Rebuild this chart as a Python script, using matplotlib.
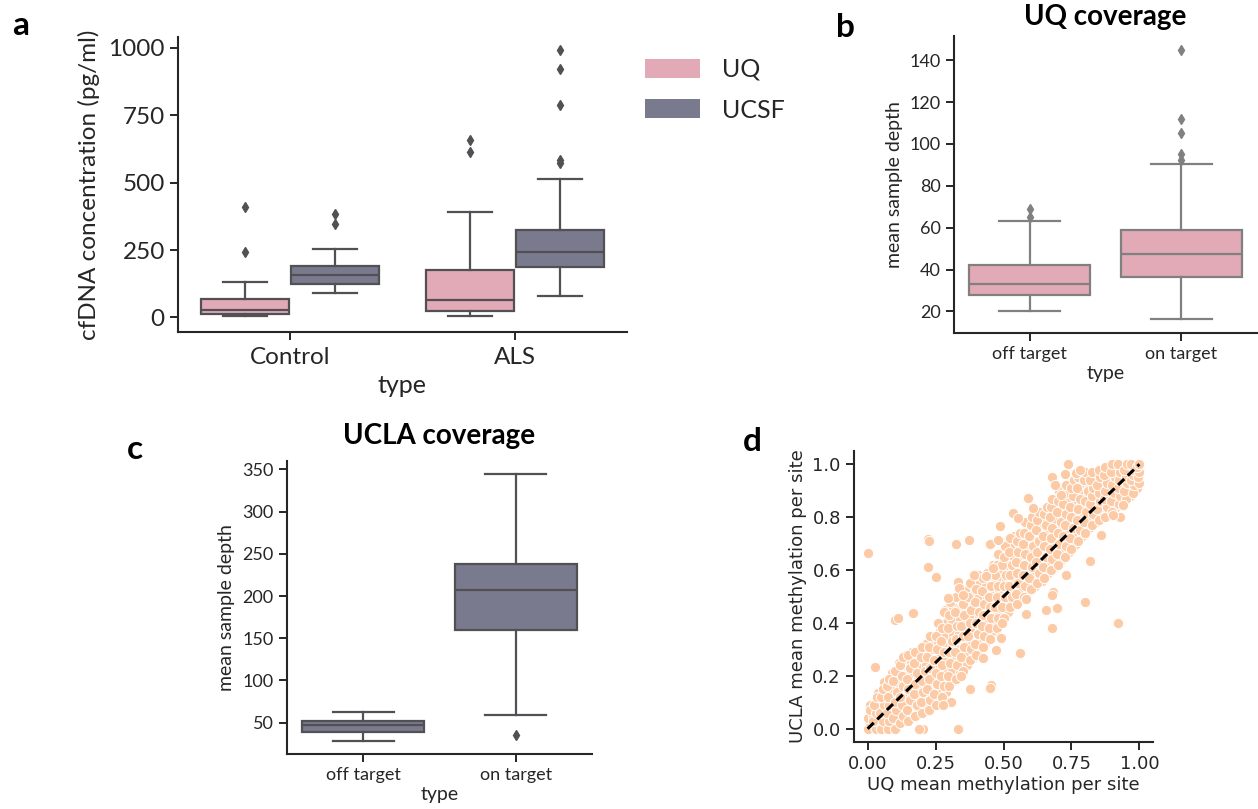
import numpy as np
import matplotlib
matplotlib.use('Agg')
import matplotlib.pyplot as plt
from matplotlib.patches import Patch
from matplotlib.ticker import FormatStrFormatter

# ---------------- data ----------------
# panel a: cfDNA concentration (pg/ml), box summaries per type
cfdna_types = ['Control', 'ALS']
cfdna_sites = ['UQ', 'UCSF']
uq_cfdna_whislo = [5, 4]
uq_cfdna_q1 = [13, 25]
uq_cfdna_med = [28, 65]
uq_cfdna_q3 = [68, 177]
uq_cfdna_whishi = [131, 391]
uq_cfdna_fliers = [[243, 408], [612, 658]]
ucsf_cfdna_whislo = [89, 79]
ucsf_cfdna_q1 = [124, 186]
ucsf_cfdna_med = [157, 242]
ucsf_cfdna_q3 = [192, 324]
ucsf_cfdna_whishi = [253, 514]
ucsf_cfdna_fliers = [[347, 382], [573, 583, 787, 921, 991]]

# panel b: UQ coverage (mean sample depth)
cov_types = ['off target', 'on target']
uq_cov_whislo = [20.2, 16.2]
uq_cov_q1 = [27.8, 36.5]
uq_cov_med = [33.2, 47.3]
uq_cov_q3 = [42.4, 58.8]
uq_cov_whishi = [63.4, 90.6]
uq_cov_fliers = [[65.2, 69.0], [92.2, 95.2, 105.2, 111.9, 144.8]]

# panel c: UCLA coverage (mean sample depth)
ucla_cov_whislo = [28.3, 58.7]
ucla_cov_q1 = [38.5, 159.4]
ucla_cov_med = [47.2, 207.0]
ucla_cov_q3 = [52.0, 237.5]
ucla_cov_whishi = [63.0, 344.5]
ucla_cov_fliers = [[], [35.8]]

# panel d: mean methylation per site, UQ (x) vs UCLA (y)
uq_site_meth = [
    0.00, 0.01, 0.00, 0.02, 0.01,
    0.03, 0.02, 0.03, 0.025, 0.035,
    0.05, 0.055, 0.045, 0.06, 0.05, 0.055,
    0.075, 0.08, 0.07, 0.08, 0.075, 0.07, 0.08,
    0.10, 0.095, 0.105, 0.10, 0.11, 0.095, 0.10,
    0.12, 0.13, 0.125, 0.12, 0.13, 0.125, 0.12, 0.13,
    0.15, 0.145, 0.155, 0.15, 0.145, 0.155, 0.15,
    0.175, 0.18, 0.17, 0.175, 0.18, 0.17, 0.175,
    0.20, 0.195, 0.205, 0.20, 0.21, 0.195, 0.20,
    0.225, 0.23, 0.22, 0.225, 0.23, 0.22, 0.225, 0.23,
    0.25, 0.245, 0.255, 0.25, 0.245, 0.255, 0.25, 0.26,
    0.275, 0.28, 0.27, 0.275, 0.28, 0.27, 0.275, 0.28,
    0.30, 0.295, 0.305, 0.30, 0.31, 0.295, 0.30, 0.305,
    0.325, 0.33, 0.32, 0.325, 0.33, 0.32, 0.325,
    0.35, 0.345, 0.355, 0.35, 0.345, 0.355, 0.35, 0.36,
    0.375, 0.38, 0.37, 0.375, 0.38, 0.37, 0.375,
    0.40, 0.395, 0.405, 0.40, 0.41, 0.395, 0.40, 0.405,
    0.425, 0.43, 0.42, 0.425, 0.43, 0.42, 0.425,
    0.45, 0.445, 0.455, 0.45, 0.445, 0.455, 0.45, 0.46,
    0.475, 0.48, 0.47, 0.475, 0.48, 0.47, 0.475, 0.48,
    0.50, 0.495, 0.505, 0.50, 0.51, 0.495, 0.50, 0.505,
    0.525, 0.53, 0.52, 0.525, 0.53, 0.52, 0.525,
    0.55, 0.545, 0.555, 0.55, 0.545, 0.555, 0.55, 0.56,
    0.575, 0.58, 0.57, 0.575, 0.58, 0.57, 0.575, 0.58,
    0.60, 0.595, 0.605, 0.60, 0.61, 0.595, 0.60, 0.605,
    0.625, 0.63, 0.62, 0.625, 0.63, 0.62, 0.625, 0.63,
    0.65, 0.645, 0.655, 0.65, 0.645, 0.655, 0.65, 0.66,
    0.675, 0.68, 0.67, 0.675, 0.68, 0.67, 0.675, 0.68,
    0.70, 0.695, 0.705, 0.70, 0.71, 0.695, 0.70, 0.705,
    0.725, 0.73, 0.72, 0.725, 0.73, 0.72, 0.725, 0.73,
    0.75, 0.745, 0.755, 0.75, 0.745, 0.755, 0.75, 0.76,
    0.775, 0.78, 0.77, 0.775, 0.78, 0.77, 0.775,
    0.80, 0.795, 0.805, 0.80, 0.81, 0.795, 0.80,
    0.825, 0.83, 0.82, 0.825, 0.83, 0.82, 0.825,
    0.85, 0.845, 0.855, 0.85, 0.845, 0.855, 0.85,
    0.875, 0.88, 0.87, 0.875, 0.88, 0.87, 0.875,
    0.90, 0.895, 0.905, 0.90, 0.91, 0.895, 0.90,
    0.925, 0.93, 0.92, 0.925, 0.93, 0.92,
    0.95, 0.945, 0.955, 0.95, 0.945, 0.955,
    0.975, 0.98, 0.97, 0.975, 0.98, 0.97,
    1.00, 0.995, 1.00, 0.99, 1.00,
    # scattered sites away from the band
    0.00, 0.222, 0.227, 0.324, 0.372, 0.224, 0.251, 0.488, 0.45, 0.48,
    0.461, 0.434, 0.39, 0.332, 0.336, 0.351, 0.296,
    0.737, 0.725, 0.766, 0.78, 0.68, 0.688, 0.71, 0.59, 0.608, 0.535,
    0.553, 0.94, 0.927, 0.903, 0.86, 0.817, 0.731, 0.682, 0.68,
    0.028, 0.10, 0.112, 0.167, 0.332, 0.204, 0.19, 0.455, 0.45, 0.375,
    0.345, 0.308, 0.277, 0.486, 0.474, 0.425,
    0.80, 0.921, 0.678, 0.658, 0.695, 0.584, 0.559, 0.492, 0.493, 0.584,
]
ucla_site_meth = [
    0.00, 0.02, 0.04, 0.05, 0.07,
    0.00, 0.03, 0.06, 0.09, 0.12,
    0.00, 0.03, 0.06, 0.09, 0.12, 0.15,
    0.00, 0.03, 0.06, 0.09, 0.12, 0.16, 0.19,
    0.00, 0.04, 0.07, 0.10, 0.14, 0.18, 0.22,
    0.02, 0.05, 0.09, 0.12, 0.16, 0.20, 0.24, 0.27,
    0.03, 0.07, 0.11, 0.15, 0.19, 0.23, 0.28,
    0.05, 0.09, 0.13, 0.17, 0.21, 0.25, 0.29,
    0.06, 0.10, 0.14, 0.18, 0.22, 0.27, 0.31,
    0.07, 0.11, 0.15, 0.19, 0.23, 0.27, 0.31, 0.35,
    0.09, 0.13, 0.17, 0.21, 0.26, 0.30, 0.35, 0.40,
    0.12, 0.16, 0.20, 0.24, 0.29, 0.33, 0.38, 0.44,
    0.16, 0.20, 0.25, 0.29, 0.33, 0.38, 0.43, 0.48,
    0.19, 0.24, 0.29, 0.34, 0.39, 0.44, 0.50,
    0.22, 0.27, 0.31, 0.35, 0.39, 0.43, 0.47, 0.52,
    0.26, 0.30, 0.35, 0.40, 0.45, 0.50, 0.55,
    0.28, 0.32, 0.36, 0.40, 0.44, 0.48, 0.53, 0.58,
    0.31, 0.35, 0.39, 0.43, 0.47, 0.52, 0.57,
    0.34, 0.38, 0.42, 0.46, 0.50, 0.54, 0.58, 0.62,
    0.38, 0.42, 0.46, 0.50, 0.54, 0.58, 0.62, 0.66,
    0.42, 0.46, 0.50, 0.54, 0.58, 0.62, 0.65, 0.69,
    0.46, 0.50, 0.54, 0.58, 0.62, 0.67, 0.72,
    0.47, 0.51, 0.55, 0.59, 0.63, 0.67, 0.71, 0.74,
    0.50, 0.54, 0.58, 0.62, 0.66, 0.70, 0.74, 0.78,
    0.53, 0.57, 0.61, 0.65, 0.69, 0.73, 0.77, 0.80,
    0.55, 0.59, 0.63, 0.67, 0.71, 0.75, 0.79, 0.82,
    0.57, 0.61, 0.65, 0.69, 0.73, 0.77, 0.81, 0.84,
    0.60, 0.64, 0.68, 0.72, 0.76, 0.80, 0.84, 0.87,
    0.62, 0.66, 0.70, 0.74, 0.78, 0.82, 0.86, 0.90,
    0.65, 0.69, 0.73, 0.77, 0.81, 0.85, 0.89, 0.92,
    0.68, 0.72, 0.76, 0.80, 0.84, 0.88, 0.91, 0.94,
    0.71, 0.75, 0.79, 0.83, 0.87, 0.91, 0.95,
    0.74, 0.78, 0.82, 0.86, 0.90, 0.94, 0.97,
    0.77, 0.81, 0.85, 0.88, 0.91, 0.94, 0.97,
    0.79, 0.83, 0.86, 0.89, 0.92, 0.95, 0.98,
    0.80, 0.84, 0.87, 0.90, 0.93, 0.96, 0.99,
    0.82, 0.86, 0.89, 0.92, 0.95, 0.97, 1.00,
    0.85, 0.88, 0.91, 0.94, 0.97, 1.00,
    0.87, 0.90, 0.93, 0.95, 0.98, 1.00,
    0.89, 0.92, 0.94, 0.96, 0.98, 1.00,
    0.93, 0.95, 0.97, 0.99, 1.00,
    # scattered sites away from the band
    0.665, 0.716, 0.708, 0.700, 0.712, 0.611, 0.574, 0.766, 0.70, 0.713,
    0.606, 0.577, 0.58, 0.555, 0.533, 0.505, 0.493,
    1.00, 0.962, 0.965, 0.977, 0.952, 0.92, 0.885, 0.873, 0.836, 0.816,
    0.795, 0.845, 0.80, 0.807, 0.732, 0.634, 0.58, 0.517, 0.505,
    0.234, 0.41, 0.42, 0.438, 0.0, 0.0, 0.0, 0.165, 0.155, 0.149,
    0.20, 0.102, 0.09, 0.348, 0.297, 0.266,
    0.478, 0.398, 0.382, 0.448, 0.457, 0.432, 0.287, 0.345, 0.40, 0.49,
]
# second layer of sites packed in between the first (dense core of the band)
uq_site_meth_core = [
    0.015, 0.01, 0.015, 0.01,
    0.04, 0.035, 0.04, 0.035, 0.04,
    0.065, 0.06, 0.065, 0.06, 0.065, 0.06,
    0.09, 0.085, 0.09, 0.085, 0.09, 0.085, 0.09,
    0.115, 0.11, 0.115, 0.11, 0.115, 0.11, 0.115,
    0.14, 0.135, 0.14, 0.135, 0.14, 0.135, 0.14,
    0.165, 0.16, 0.165, 0.16, 0.165, 0.16, 0.165,
    0.19, 0.185, 0.19, 0.185, 0.19, 0.185,
    0.215, 0.21, 0.215, 0.21, 0.215, 0.21, 0.215,
    0.24, 0.235, 0.24, 0.235, 0.24, 0.235, 0.24,
    0.265, 0.26, 0.265, 0.26, 0.265, 0.26, 0.265,
    0.29, 0.285, 0.29, 0.285, 0.29, 0.285, 0.29, 0.285,
    0.315, 0.31, 0.315, 0.31, 0.315, 0.31, 0.315,
    0.34, 0.335, 0.34, 0.335, 0.34, 0.335, 0.34,
    0.365, 0.36, 0.365, 0.36, 0.365, 0.36, 0.365,
    0.39, 0.385, 0.39, 0.385, 0.39, 0.385, 0.39,
    0.415, 0.41, 0.415, 0.41, 0.415, 0.41, 0.415,
    0.44, 0.435, 0.44, 0.435, 0.44, 0.435, 0.44,
    0.465, 0.46, 0.465, 0.46, 0.465, 0.46, 0.465,
    0.49, 0.485, 0.49, 0.485, 0.49, 0.485, 0.49,
    0.515, 0.51, 0.515, 0.51, 0.515, 0.51, 0.515,
    0.54, 0.535, 0.54, 0.535, 0.54, 0.535, 0.54,
    0.565, 0.56, 0.565, 0.56, 0.565, 0.56, 0.565,
    0.59, 0.585, 0.59, 0.585, 0.59, 0.585, 0.59,
    0.615, 0.61, 0.615, 0.61, 0.615, 0.61, 0.615,
    0.64, 0.635, 0.64, 0.635, 0.64, 0.635, 0.64,
    0.665, 0.66, 0.665, 0.66, 0.665, 0.66, 0.665,
    0.69, 0.685, 0.69, 0.685, 0.69, 0.685, 0.69,
    0.715, 0.71, 0.715, 0.71, 0.715, 0.71, 0.715,
    0.74, 0.735, 0.74, 0.735, 0.74, 0.735, 0.74,
    0.765, 0.76, 0.765, 0.76, 0.765, 0.76, 0.765,
    0.79, 0.785, 0.79, 0.785, 0.79, 0.785, 0.79,
    0.815, 0.81, 0.815, 0.81, 0.815, 0.81,
    0.84, 0.835, 0.84, 0.835, 0.84, 0.835,
    0.865, 0.86, 0.865, 0.86, 0.865, 0.86,
    0.89, 0.885, 0.89, 0.885, 0.89, 0.885,
    0.915, 0.91, 0.915, 0.91, 0.915, 0.91,
    0.94, 0.935, 0.94, 0.935, 0.94,
    0.965, 0.96, 0.965, 0.96, 0.965,
    0.99, 0.985, 0.99, 0.985,
]
ucla_site_meth_core = [
    0.01, 0.03, 0.06, 0.09,
    0.015, 0.045, 0.075, 0.105, 0.135,
    0.015, 0.045, 0.075, 0.105, 0.14, 0.175,
    0.015, 0.045, 0.08, 0.115, 0.15, 0.185, 0.21,
    0.02, 0.055, 0.09, 0.13, 0.17, 0.21, 0.25,
    0.04, 0.08, 0.12, 0.16, 0.20, 0.24, 0.28,
    0.05, 0.09, 0.13, 0.17, 0.21, 0.25, 0.29,
    0.07, 0.11, 0.15, 0.19, 0.23, 0.27,
    0.08, 0.12, 0.16, 0.20, 0.24, 0.28, 0.32,
    0.10, 0.14, 0.18, 0.22, 0.26, 0.30, 0.34,
    0.11, 0.15, 0.19, 0.23, 0.28, 0.32, 0.37,
    0.14, 0.18, 0.22, 0.26, 0.31, 0.35, 0.40, 0.45,
    0.18, 0.22, 0.27, 0.31, 0.36, 0.41, 0.46,
    0.21, 0.25, 0.30, 0.36, 0.41, 0.45, 0.49,
    0.24, 0.29, 0.33, 0.37, 0.42, 0.46, 0.51,
    0.27, 0.32, 0.37, 0.42, 0.47, 0.52, 0.56,
    0.30, 0.34, 0.38, 0.42, 0.46, 0.50, 0.55,
    0.33, 0.37, 0.41, 0.45, 0.49, 0.54, 0.59,
    0.36, 0.40, 0.44, 0.48, 0.52, 0.56, 0.60,
    0.40, 0.44, 0.48, 0.52, 0.56, 0.60, 0.64,
    0.44, 0.48, 0.52, 0.56, 0.60, 0.64, 0.68,
    0.47, 0.52, 0.56, 0.60, 0.64, 0.69, 0.73,
    0.49, 0.53, 0.57, 0.61, 0.65, 0.69, 0.73,
    0.52, 0.56, 0.60, 0.64, 0.68, 0.72, 0.76,
    0.54, 0.59, 0.63, 0.67, 0.71, 0.75, 0.79,
    0.56, 0.61, 0.65, 0.69, 0.73, 0.77, 0.81,
    0.59, 0.63, 0.67, 0.71, 0.75, 0.79, 0.83,
    0.61, 0.66, 0.70, 0.74, 0.78, 0.82, 0.86,
    0.64, 0.68, 0.72, 0.76, 0.80, 0.84, 0.88,
    0.67, 0.71, 0.75, 0.79, 0.83, 0.87, 0.90,
    0.70, 0.74, 0.78, 0.82, 0.86, 0.89, 0.93,
    0.73, 0.77, 0.81, 0.85, 0.89, 0.93, 0.96,
    0.76, 0.80, 0.84, 0.88, 0.92, 0.96,
    0.78, 0.82, 0.86, 0.90, 0.94, 0.97,
    0.80, 0.84, 0.88, 0.91, 0.94, 0.97,
    0.82, 0.86, 0.89, 0.92, 0.95, 0.98,
    0.84, 0.87, 0.90, 0.93, 0.96, 0.99,
    0.86, 0.89, 0.92, 0.96, 0.99,
    0.88, 0.91, 0.94, 0.97, 0.99,
    0.91, 0.94, 0.965, 0.985,
]

# ---------------- styling ----------------
plt.rcParams['font.family'] = ['Lato', 'DejaVu Sans']
txt = '#262626'
pink = '#E2AAB7'
slate = '#7A7A8E'
peach = '#FCCBA6'
dark_edge = '#505055'
light_edge = '#808080'

fig = plt.figure(figsize=(12.58, 8.09), dpi=100)
W, H = 1258.0, 809.0


def add_axes_px(left, top, right, bottom):
    return fig.add_axes([left / W, 1 - bottom / H, (right - left) / W, (bottom - top) / H])


def stats_list(lo, q1, med, q3, hi, fl):
    return [dict(whislo=a, q1=b, med=c, q3=d, whishi=e, fliers=f)
            for a, b, c, d, e, f in zip(lo, q1, med, q3, hi, fl)]


def draw_boxes(ax, stats, pos, width, face, edge):
    ax.bxp(stats, positions=pos, widths=width, patch_artist=True, manage_ticks=False,
           boxprops=dict(facecolor=face, edgecolor=edge, linewidth=1.6),
           medianprops=dict(color=edge, linewidth=1.6),
           whiskerprops=dict(color=edge, linewidth=1.6),
           capprops=dict(color=edge, linewidth=1.6),
           flierprops=dict(marker='d', markerfacecolor=edge, markeredgecolor=edge, markersize=5.5))


def style_axes(ax, size):
    for s in ['top', 'right']:
        ax.spines[s].set_visible(False)
    for s in ['left', 'bottom']:
        ax.spines[s].set_linewidth(1.5)
        ax.spines[s].set_color(txt)
    ax.tick_params(length=6, width=1.4, colors=txt, labelsize=size)


# ---------------- panel a ----------------
ax_a = add_axes_px(178, 37, 627, 332)
xa = np.arange(len(cfdna_types))
draw_boxes(ax_a, stats_list(uq_cfdna_whislo, uq_cfdna_q1, uq_cfdna_med, uq_cfdna_q3,
                            uq_cfdna_whishi, uq_cfdna_fliers), xa - 0.2, 0.392, pink, dark_edge)
draw_boxes(ax_a, stats_list(ucsf_cfdna_whislo, ucsf_cfdna_q1, ucsf_cfdna_med, ucsf_cfdna_q3,
                            ucsf_cfdna_whishi, ucsf_cfdna_fliers), xa + 0.2, 0.392, slate, dark_edge)
ax_a.set_xlim(-0.5, 1.5)
ax_a.set_ylim(-54, 1040)
ax_a.set_xticks(xa)
ax_a.set_xticklabels(cfdna_types)
ax_a.set_yticks([0, 250, 500, 750, 1000])
style_axes(ax_a, 17.5)
ax_a.tick_params(axis='x', pad=5)
ax_a.set_xlabel('type', fontsize=18, color=txt, labelpad=4)
ax_a.set_ylabel('cfDNA concentration (pg/ml)', fontsize=17.5, color=txt, labelpad=6)
ax_a.legend(handles=[Patch(facecolor=pink, edgecolor='none', label=cfdna_sites[0]),
                     Patch(facecolor=slate, edgecolor='none', label=cfdna_sites[1])],
            loc='upper left', bbox_to_anchor=(645 / W, 1 - 58 / H), bbox_transform=fig.transFigure,
            frameon=False, fontsize=18, handlelength=2.2, handleheight=0.8,
            labelspacing=0.7, handletextpad=0.9, borderpad=0, borderaxespad=0,
            labelcolor=txt)

# ---------------- panel b ----------------
ax_b = add_axes_px(954, 36, 1257, 333)
xb = np.arange(len(cov_types))
draw_boxes(ax_b, stats_list(uq_cov_whislo, uq_cov_q1, uq_cov_med, uq_cov_q3,
                            uq_cov_whishi, uq_cov_fliers), xb, 0.8, pink, light_edge)
ax_b.set_xlim(-0.5, 1.5)
ax_b.set_ylim(9.7, 151.6)
ax_b.set_xticks(xb)
ax_b.set_xticklabels(cov_types)
ax_b.set_yticks([20, 40, 60, 80, 100, 120, 140])
style_axes(ax_b, 13)
ax_b.set_xlabel('type', fontsize=14, color=txt, labelpad=2)
ax_b.set_ylabel('mean sample depth', fontsize=14, color=txt, labelpad=5)
ax_b.set_title('UQ coverage', fontsize=20, fontweight='bold', color='black', pad=8)

# ---------------- panel c ----------------
ax_c = add_axes_px(287, 461, 592, 754)
draw_boxes(ax_c, stats_list(ucla_cov_whislo, ucla_cov_q1, ucla_cov_med, ucla_cov_q3,
                            ucla_cov_whishi, ucla_cov_fliers), xb, 0.8, slate, dark_edge)
ax_c.set_xlim(-0.5, 1.5)
ax_c.set_ylim(12.9, 360)
ax_c.set_xticks(xb)
ax_c.set_xticklabels(cov_types)
ax_c.set_yticks([50, 100, 150, 200, 250, 300, 350])
style_axes(ax_c, 13)
ax_c.set_xlabel('type', fontsize=14, color=txt, labelpad=2)
ax_c.set_ylabel('mean sample depth', fontsize=14, color=txt, labelpad=5)
ax_c.set_title('UCLA coverage', fontsize=20, fontweight='bold', color='black', pad=12)

# ---------------- panel d ----------------
ax_d = add_axes_px(854, 451, 1153, 742)
ax_d.scatter(uq_site_meth_core, ucla_site_meth_core, s=55, color=peach, edgecolor='white',
             linewidth=0.7, zorder=2)
ax_d.scatter(uq_site_meth, ucla_site_meth, s=55, color=peach, edgecolor='white',
             linewidth=0.7, zorder=2)
ax_d.plot([0, 1], [0, 1], color='black', linestyle='--', dashes=(2.8, 1.6), linewidth=2.2, zorder=3)
ax_d.set_xlim(-0.05, 1.05)
ax_d.set_ylim(-0.05, 1.05)
ax_d.set_xticks([0, 0.25, 0.5, 0.75, 1.0])
ax_d.set_yticks([0, 0.2, 0.4, 0.6, 0.8, 1.0])
ax_d.xaxis.set_major_formatter(FormatStrFormatter('%.2f'))
ax_d.yaxis.set_major_formatter(FormatStrFormatter('%.1f'))
style_axes(ax_d, 13)
for lab in ax_d.get_xticklabels() + ax_d.get_yticklabels():
    lab.set_family('DejaVu Sans')
ax_d.set_xlabel('UQ mean methylation per site', fontsize=13, family='DejaVu Sans', color=txt, labelpad=2)
ax_d.set_ylabel('UCLA mean methylation per site', fontsize=13, family='DejaVu Sans', color=txt, labelpad=4)

# ---------------- panel letters ----------------
for letter, x, y in [('a', 12, 35), ('b', 836, 37), ('c', 127, 459), ('d', 743, 451)]:
    fig.text(x / W, 1 - y / H, letter, fontsize=24, fontweight='bold', color='black',
             ha='left', va='baseline')

fig.savefig('out.png', dpi=100)
